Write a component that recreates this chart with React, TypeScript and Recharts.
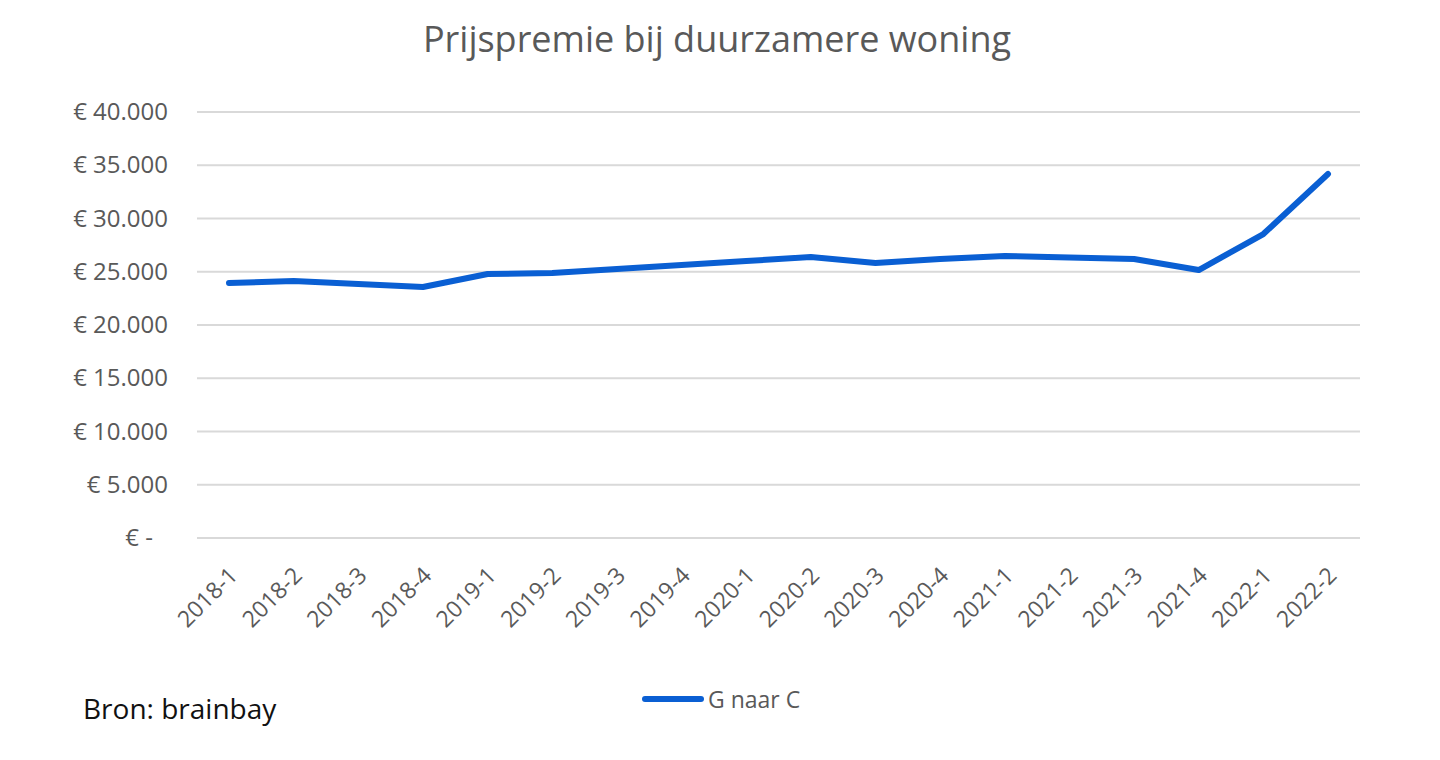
import React from "react";
import { LineChart, Line, XAxis, YAxis, CartesianGrid } from "recharts";

const quarters = [
  "2018-1", "2018-2", "2018-3", "2018-4",
  "2019-1", "2019-2", "2019-3", "2019-4",
  "2020-1", "2020-2", "2020-3", "2020-4",
  "2021-1", "2021-2", "2021-3", "2021-4",
  "2022-1", "2022-2",
];

const gNaarC = [
  23950, 24130, 23850, 23570,
  24790, 24880, 25260, 25630,
  26000, 26380, 25820, 26200,
  26480, 26340, 26200, 25160,
  28540, 34180,
];

const yTicks = [0, 5000, 10000, 15000, 20000, 25000, 30000, 35000, 40000];

const data = quarters.map((q, i) => ({ q, value: gNaarC[i] }));

const FONT = "'Open Sans', sans-serif";
const GREY = "#595959";
const BLUE = "#0a5fd3";

const euro = (v: number) =>
  v === 0 ? "€ -" : "€ " + v.toLocaleString("de-DE");

const YTick = (props: any) => {
  const { y, payload } = props;
  const isZero = payload.value === 0;
  return (
    <text
      x={isZero ? 153 : 168}
      y={y}
      dy={8}
      textAnchor="end"
      fill={GREY}
      fontSize={24}
      fontFamily={FONT}
    >
      {euro(payload.value)}
    </text>
  );
};

const XTick = (props: any) => {
  const { x, y, payload } = props;
  return (
    <g transform={`translate(${x + 10},${y + 31})`}>
      <text
        textAnchor="end"
        transform="rotate(-45)"
        fill={GREY}
        fontSize={23}
        fontFamily={FONT}
      >
        {payload.value}
      </text>
    </g>
  );
};

export default function App() {
  return (
    <div style={{ position: "absolute", left: 0, top: 0, width: 1440, height: 760, background: "#fff" }}>
      <div
        style={{
          position: "absolute",
          top: 14,
          left: 0,
          width: 1440,
          textAlign: "center",
          fontFamily: FONT,
          fontSize: 36,
          color: GREY,
          transform: "translateX(-3px)",
        }}
      >
        Prijspremie bij duurzamere woning
      </div>
      <LineChart
        width={1440}
        height={760}
        data={data}
        margin={{ top: 112, right: 80, bottom: 102, left: 0 }}
      >
        <CartesianGrid vertical={false} stroke="#d9d9d9" strokeWidth={2} />
        <XAxis
          dataKey="q"
          axisLine={false}
          tickLine={false}
          interval={0}
          padding={{ left: 32, right: 32 }}
          tick={<XTick />}
          height={120}
        />
        <YAxis
          domain={[0, 40000]}
          ticks={yTicks}
          width={197}
          axisLine={false}
          tickLine={false}
          tick={<YTick />}
        />
        <Line
          type="linear"
          dataKey="value"
          name="G naar C"
          stroke={BLUE}
          strokeWidth={6}
          strokeLinecap="round"
          strokeLinejoin="round"
          dot={false}
          isAnimationActive={false}
        />
      </LineChart>
      <div
        style={{
          position: "absolute",
          left: 641,
          top: 683,
          display: "flex",
          alignItems: "center",
          fontFamily: FONT,
        }}
      >
        <svg width={64} height={10}>
          <line x1={4} y1={5} x2={60} y2={5} stroke={BLUE} strokeWidth={6} strokeLinecap="round" />
        </svg>
        <span style={{ color: GREY, fontSize: 23, marginLeft: 3 }}>G naar C</span>
      </div>
      <div
        style={{
          position: "absolute",
          left: 83,
          top: 689,
          fontFamily: FONT,
          fontSize: 28,
          color: "#111",
        }}
      >
        Bron: brainbay
      </div>
    </div>
  );
}
